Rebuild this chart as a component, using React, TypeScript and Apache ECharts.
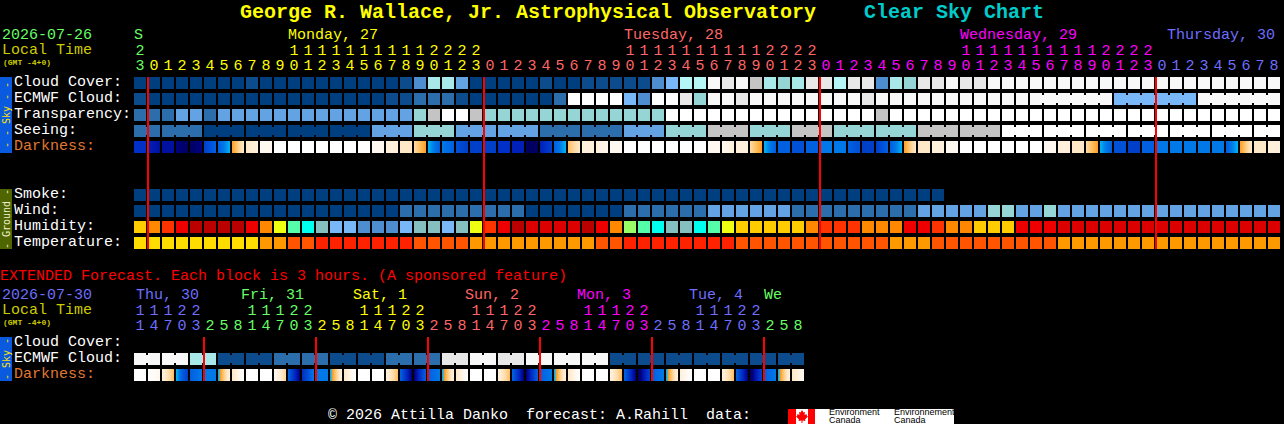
import React, { useEffect, useRef } from "react";
import * as echarts from "echarts";

const MONO = "'Liberation Mono', monospace";

const skyPalette = ["#003F7F", "#0C4C8C", "#2C6DAC", "#4E8ED0", "#63A3E3", "#78B8F8", "#95D5D5", "#A8E8E8", "#B5F5F5", "#C4C4C4", "#E8E8E8", "#F8F8F8", "#FFFFFF"];
const humidityPalette = ["#FFCC00", "#FF8800", "#FF3300", "#EE0000", "#BB0000", "#DD0000", "#EEFF11", "#55FFAA", "#00FFEE", "#85BFBF", "#78B8F8", "#4E8ED0", "#99FF66"];
const temperaturePalette = ["#FFDD00", "#FF9900", "#FF5500", "#FF2200"];
const darknessRamp = ["#000060", "#000080", "#0010A0", "#0020B8", "#0030C8", "#0040C8", "#0050D8", "#0060E0", "#0078E8", "#00B0F0", "#FFA030", "#FFC060", "#FFD8A0", "#FFE8C8", "#FFF0DC", "#FFF8F0", "#FFFFFF"];

const cloudCover = [
  0,0,0,0,0,0,0,0,1,0, 0,0,0,0,0,0,0,0,0,1, 3,7,7,4,0,0,0,0,0,1,
  0,0,1,1,1,1,1,3,5,8, 8,11,10,11,9,7,6,7,10,10, 8,10,10,3,7,6,10,10,11,10,
  10,11,11,11,11,11,11,11,11,11, 11,11,11,11,11,11,11,11,11,11, 11,11,
];
const ecmwfCloud = [
  1,0,0,0,0,0,0,0,0,0, 0,0,0,0,0,0,0,0,1,1, 2,2,2,1,0,0,0,0,0,0,
  2,12,12,12,12,5,3,12,12,10, 6,11,11,10,11,11,11,11,11,11, 11,11,10,11,11,11,11,11,11,11,
  11,11,11,11,11,11,11,11,11,11, 5,5,5,5,5,5,11,11,11,11, 11,11,
];
const transparency = [
  2,2,2,4,4,2,4,4,4,4, 4,4,4,4,4,4,4,4,4,4, 6,9,12,12,9,6,6,6,6,6,
  6,6,6,6,6,6,6,6,12,12, 12,12,12,12,12,12,12,12,12,12, 12,12,12,9,12,12,12,12,12,12,
  12,12,12,12,12,12,12,12,12,12, 12,12,12,12,12,12,12,12,12,12, 12,12,
];
const seeing = [
  2,2,2,2,2,0,0,0,0,0, 0,0,0,0,0,0,0,4,4,4, 6,6,6,4,4,4,4,4,4,2,
  2,2,2,2,2,4,4,4,6,6, 6,9,9,9,6,6,6,9,9,9, 6,6,6,6,6,6,9,9,9,9,
  9,9,12,12,12,12,12,12,12,12, 12,12,12,12,12,12,12,12,12,12, 12,12,
];
const smoke = [
  0,0,0,0,0,0,0,0,0,0, 0,0,0,0,0,0,0,0,0,0, 0,0,0,0,0,0,0,0,0,0,
  0,0,0,0,0,0,0,0,0,0, 0,0,0,0,0,0,0,0,0,0, 0,0,0,0,0,0,0,0,
];
const wind = [
  0,0,0,0,0,0,0,0,0,0, 0,0,0,0,0,0,0,0,0,2, 2,2,2,2,2,2,2,2,0,0,
  0,0,0,0,0,2,2,2,2,2, 2,4,4,4,4,4,4,2,2,2, 2,2,2,2,2,2,4,4,4,4,
  4,6,6,4,4,6,4,4,4,4, 4,4,4,4,4,4,4,4,4,4, 4,4,
];
const humidity = [
  0,1,2,3,4,4,4,4,3,1, 6,7,8,9,10,10,11,11,11,10, 9,9,10,9,6,2,3,4,5,5,
  5,5,4,3,1,12,7,8,9,9, 8,7,6,0,0,0,0,0,1,2, 2,2,1,1,1,3,3,2,1,1,
  0,0,0,3,3,3,5,5,5,5, 5,5,5,5,5,5,5,5,5,5, 5,5,
];
const temperature = [
  0,0,0,0,0,0,0,0,0,1, 1,2,2,3,3,3,3,3,3,3, 2,2,2,2,1,1,1,1,1,1,
  1,1,1,2,2,3,3,3,3,3, 3,3,3,2,2,2,2,2,2,2, 2,2,2,2,1,1,1,2,2,2,
  2,2,2,2,2,2,1,1,1,1, 1,1,1,1,1,1,1,1,1,1, 1,1,
];
const darknessFrom = [
  4,3,2,1,0,5,7,10,13,15, 16,16,16,16,16,16,16,15,14,13, 12,9,8,6,5,5,4,3,0,3,
  7,11,14,14,15,16,16,16,16,16, 16,15,15,14,12,9,7,6,7,8, 8,7,5,5,7,10,13,14,15,16,
  16,16,16,16,16,15,14,13,12,9, 6,5,7,8,8,8,8,8,7,10, 13,14,
];
const darknessTo = [
  4,2,2,0,1,7,9,13,14,15, 16,16,16,16,16,16,16,15,14,13, 10,7,7,5,5,5,4,3,0,5,
  9,13,14,15,15,16,16,16,16,16, 16,15,14,14,10,7,7,6,7,8, 8,6,5,7,9,13,13,14,15,16,
  16,16,16,16,16,15,14,13,10,7, 6,5,7,8,8,8,8,8,9,13, 13,14,
];

const extEcmwf = [
  11,11,11,11,7,7,1,1,1,1, 2,2,2,2,1,1,1,1,2,2, 2,2,10,10,11,11,10,10,11,11,
  11,11,11,11,1,1,1,1,1,1, 1,1,1,1,1,1,1,1,
];
const extDarkFrom = [
  16,16,14,9,7,8,9,13,16,16, 15,7,4,8,9,13,16,16,14,7, 1,7,9,13,16,16,14,7,1,7,
  9,13,16,16,14,7,0,7,9,14,16,16,14,7,0,7,9,13,
];
const extDarkTo = [
  16,15,11,5,8,8,14,16,16,16, 12,1,8,8,14,16,16,16,11,1, 7,8,14,16,16,16,11,1,7,8,
  14,16,16,16,11,1,5,8,14,16,16,16,11,1,5,8,14,15,
];

const skyRows = ["Cloud Cover:", "ECMWF Cloud:", "Transparency:", "Seeing:", "Darkness:", "", "", "Smoke:", "Wind:", "Humidity:", "Temperature:"];
const extRows = ["Cloud Cover:", "ECMWF Cloud:", "Darkness:"];
const hourDigits = ["3","0","1","2","3","4","5","6","7","8","9","0","1","2","3","4","5","6","7","8","9","0","1","2","3","0","1","2","3","4","5","6","7","8","9","0","1","2","3","4","5","6","7","8","9","0","1","2","3","0","1","2","3","4","5","6","7","8","9","0","1","2","3","4","5","6","7","8","9","0","1","2","3","0","1","2","3","4","5","6","7","8"];
const hourTens = ["2","","","","","","","","","","","1","1","1","1","1","1","1","1","1","1","2","2","2","2","","","","","","","","","","","1","1","1","1","1","1","1","1","1","1","2","2","2","2","","","","","","","","","","","1","1","1","1","1","1","1","1","1","1","2","2","2","2","","","","","","","","",""];
const extDigits = ["1","4","7","0","3","2","5","8","1","4","7","0","3","2","5","8","1","4","7","0","3","2","5","8","1","4","7","0","3","2","5","8","1","4","7","0","3","2","5","8","1","4","7","0","3","2","5","8"];
const extTens = ["1","1","1","2","2","","","","1","1","1","2","2","","","","1","1","1","2","2","","","","1","1","1","2","2","","","","1","1","1","2","2","","","","1","1","1","2","2","","",""];

const GREEN = "#66FF66", YELLOW = "#FFFF00", SALMON = "#FF6666", MAGENTA = "#FF00FF", BLUE = "#6E6EFF";
const mainDayEnds: [number, string][] = [[1, GREEN], [25, YELLOW], [49, SALMON], [73, MAGENTA], [82, BLUE]];
const extDayEnds: [number, string][] = [[5, BLUE], [13, GREEN], [21, YELLOW], [29, SALMON], [37, MAGENTA], [45, BLUE], [48, GREEN]];
const mainDayLabels: [string, number, string][] = [["S", 134, GREEN], ["Monday, 27", 288, YELLOW], ["Tuesday, 28", 624, SALMON], ["Wednesday, 29", 960, MAGENTA], ["Thursday, 30", 1167, BLUE]];
const extDayLabels: [string, number, string][] = [["Thu, 30", 136, BLUE], ["Fri, 31", 241, GREEN], ["Sat, 1", 353, YELLOW], ["Sun, 2", 465, SALMON], ["Mon, 3", 577, MAGENTA], ["Tue, 4", 689, BLUE], ["We", 764, GREEN]];
const mainBoundaries = [1, 25, 49, 73];
const extBoundaries = [5, 13, 21, 29, 37, 45];

const colorFrom = (ends: [number, string][]) => (_v: any, i: number) => (ends.find((e) => i < e[0]) as any)[1];

function cells(values: number[], row: number, join: (c: number) => boolean = () => false) {
  return values.map((v, c) => [c, row, v, join(c) && c < values.length - 1 ? 1 : 0]);
}
function darkCells(from: number[], to: number[], row: number) {
  return from.map((v, c) => [c, row, v, to[c]]);
}

function cellRender(palette: string[]) {
  return (_p: any, api: any) => {
    const [cx, cy] = api.coord([api.value(0), api.value(1)]);
    const fill = palette[api.value(2)];
    const children: any[] = [{ type: "rect", shape: { x: cx - 6, y: cy - 6, width: 12, height: 12 }, style: { fill } }];
    if (api.value(3)) children.push({ type: "rect", shape: { x: cx + 6, y: cy - 4, width: 2, height: 8 }, style: { fill } });
    return { type: "group", children };
  };
}
function rampColor(level: number) {
  const lo = Math.floor(level);
  const hi = Math.min(lo + 1, darknessRamp.length - 1);
  return echarts.color.lerp(level - lo, [darknessRamp[lo], darknessRamp[hi]]);
}
function darkRender(_p: any, api: any) {
  const [cx, cy] = api.coord([api.value(0), api.value(1)]);
  const a = api.value(2), b = api.value(3);
  const children: any[] = [];
  for (let i = 0; i < 12; i++) {
    children.push({ type: "rect", shape: { x: cx - 6 + i, y: cy - 6, width: 1, height: 12 }, style: { fill: rampColor(a + ((b - a) * i) / 11) } });
  }
  return { type: "group", children };
}
function boundaryRender(first: number, last: number) {
  return (_p: any, api: any) => {
    const [cx, top] = api.coord([api.value(0), first]);
    const bottom = api.coord([api.value(0), last])[1];
    return { type: "rect", shape: { x: cx - 7, y: top - 6, width: 2, height: bottom - top + 12 }, style: { fill: "#FF0000" } };
  };
}

const cellSeries = (xAxisIndex: number, yAxisIndex: number, data: any[], renderItem: any, z = 2) => ({
  type: "custom", coordinateSystem: "cartesian2d", xAxisIndex, yAxisIndex, data, renderItem, z, silent: true,
  encode: { x: 0, y: 1 },
});

const hiddenAxis = { axisLine: { show: false }, axisTick: { show: false }, splitLine: { show: false } };
const labelFont = { fontFamily: MONO, fontSize: 15 };

function txt(text: string, x: number, y: number, fill: string, fontSize = 15, fontWeight: any = "normal") {
  return { type: "text", x, y, silent: true, z: 5, style: { text, fill, fontFamily: MONO, fontSize, fontWeight, verticalAlign: "middle", align: "left" } };
}
function sideBar(y: number, h: number, fill: string, label: string, color: string) {
  return [
    { type: "rect", shape: { x: 0, y, width: 12, height: h }, style: { fill }, silent: true, z: 4 },
    { type: "text", x: 6, y: y + h / 2, rotation: Math.PI / 2, silent: true, z: 5, style: { text: label, fill: color, fontFamily: "'DejaVu Sans Mono'", fontSize: 10, align: "center", verticalAlign: "middle" } },
  ];
}
function logoText(text: string, x: number, y: number) {
  return { type: "text", x, y, silent: true, z: 5, style: { text, fill: "#000", fontFamily: "'Liberation Sans'", fontSize: 9, verticalAlign: "middle" } };
}

const mapleLeaf = [[802,410],[803.5,412.5],[805,412],[804.5,415],[806.5,414],[807,416],[808,416.5],[805,419.5],[805.5,421],[802.5,420.5],[802.5,423],[801.5,423],[801.5,420.5],[798.5,421],[799,419.5],[796,416.5],[797,416],[797.5,414],[799.5,415],[799,412],[800.5,412.5]];

function buildOption() {
  const graphic: any[] = [
    txt("George R. Wallace, Jr. Astrophysical Observatory", 240, 12, "#FFFF00", 20, "bold"),
    txt("Clear Sky Chart", 864, 12, "#00CCCC", 20, "bold"),
    txt("2026-07-26", 2, 35.5, GREEN),
    txt("Local Time", 2, 50.5, "#CCCC00"),
    txt("(GMT -4+0)", 3, 62, "#CCCC00", 8, "bold"),
    txt("EXTENDED Forecast. Each block is 3 hours. (A sponsored feature)", 0, 276, "#FF0000"),
    txt("2026-07-30", 2, 295.5, BLUE),
    txt("Local Time", 2, 310.5, "#CCCC00"),
    txt("(GMT -4+0)", 3, 322, "#CCCC00", 8, "bold"),
    txt("© 2026 Attilla Danko  forecast: A.Rahill  data:", 328, 415, "#FFFFFF"),
    ...mainDayLabels.map(([t, x, c]) => txt(t, x, 35.5, c)),
    ...extDayLabels.map(([t, x, c]) => txt(t, x, 295.5, c)),
    ...sideBar(77, 76, "#0A5AE0", "- - Sky - -", "#FFE000"),
    ...sideBar(189, 60, "#4F6600", "- Ground -", "#F0F0D0"),
    ...sideBar(337, 44, "#0A5AE0", "- Sky -", "#FFE000"),
    { type: "rect", shape: { x: 788, y: 409, width: 166, height: 15 }, style: { fill: "#FFFFFF" }, silent: true, z: 4 },
    { type: "rect", shape: { x: 788, y: 409, width: 8, height: 15 }, style: { fill: "#FF0000" }, silent: true, z: 5 },
    { type: "rect", shape: { x: 808, y: 409, width: 7, height: 15 }, style: { fill: "#FF0000" }, silent: true, z: 5 },
    { type: "polygon", shape: { points: mapleLeaf }, style: { fill: "#FF0000" }, silent: true, z: 5 },
    logoText("Environment", 829, 412),
    logoText("Canada", 829, 420),
    logoText("Environnement", 894, 412),
    logoText("Canada", 894, 420),
  ];

  const xAxisFor = (gridIndex: number, data: string[], offset: number, ends: [number, string][]) => ({
    type: "category", gridIndex, data, position: "top", offset, ...hiddenAxis,
    axisLabel: { ...labelFont, interval: 0, margin: 1.5, color: colorFrom(ends), hideOverlap: false },
  });
  const yAxisFor = (gridIndex: number, data: string[]) => ({
    type: "category", gridIndex, data, inverse: true, ...hiddenAxis,
    axisLabel: {
      ...labelFont, interval: 0, margin: 119, align: "left",
      color: (v: any) => (v === "Darkness:" ? "#E07830" : "#FFFFFF"),
    },
  });
  const emptyX = (gridIndex: number, data: string[]) => ({ type: "category", gridIndex, data, show: false });

  const seeingJoin = (c: number) => (c + 299) % 3 !== 0;
  const ecmwfJoin = (c: number) => c >= 64 && (c - 63) % 6 !== 0;
  const extJoin = (c: number) => c % 2 === 0;

  return {
    animation: false,
    backgroundColor: "#000000",
    grid: [
      { left: 133, top: 75, width: 1148, height: 176, containLabel: false, outerBoundsMode: "none" },
      { left: 133, top: 335, width: 672, height: 48, containLabel: false, outerBoundsMode: "none" },
      { left: 133, top: 74, width: 1148, height: 176, containLabel: false, outerBoundsMode: "none" },
      { left: 133, top: 334, width: 672, height: 48, containLabel: false, outerBoundsMode: "none" },
    ],
    xAxis: [
      xAxisFor(0, hourDigits, 0, mainDayEnds),
      xAxisFor(0, hourTens, 15, mainDayEnds),
      xAxisFor(1, extDigits, 0, extDayEnds),
      xAxisFor(1, extTens, 15, extDayEnds),
      emptyX(2, hourDigits),
      emptyX(3, extDigits),
    ],
    yAxis: [
      { type: "category", gridIndex: 0, data: skyRows, inverse: true, show: false },
      { type: "category", gridIndex: 1, data: extRows, inverse: true, show: false },
      yAxisFor(2, skyRows),
      yAxisFor(3, extRows),
    ],
    graphic: { elements: graphic },
    series: [
      cellSeries(0, 0, [
        ...cells(cloudCover, 0),
        ...cells(ecmwfCloud, 1, ecmwfJoin),
        ...cells(transparency, 2),
        ...cells(seeing, 3, seeingJoin),
        ...cells(smoke, 7),
        ...cells(wind, 8),
      ], cellRender(skyPalette)),
      cellSeries(0, 0, cells(humidity, 9), cellRender(humidityPalette)),
      cellSeries(0, 0, cells(temperature, 10), cellRender(temperaturePalette)),
      cellSeries(0, 0, darkCells(darknessFrom, darknessTo, 4), darkRender),
      cellSeries(0, 0, mainBoundaries.map((c) => [c, 0]), boundaryRender(0, 10), 3),
      cellSeries(2, 1, cells(extEcmwf, 1, extJoin), cellRender(skyPalette)),
      cellSeries(2, 1, darkCells(extDarkFrom, extDarkTo, 2), darkRender),
      cellSeries(2, 1, extBoundaries.map((c) => [c, 0]), boundaryRender(0, 2), 3),
    ],
  };
}

export default function App() {
  const ref = useRef<HTMLDivElement>(null);
  useEffect(() => {
    document.body.style.margin = "0";
    document.body.style.background = "#000";
    const chart = echarts.init(ref.current as HTMLDivElement, null, { renderer: "svg" });
    chart.setOption(buildOption() as any);
    return () => chart.dispose();
  }, []);
  return <div ref={ref} style={{ width: 1284, height: 424 }} />;
}
